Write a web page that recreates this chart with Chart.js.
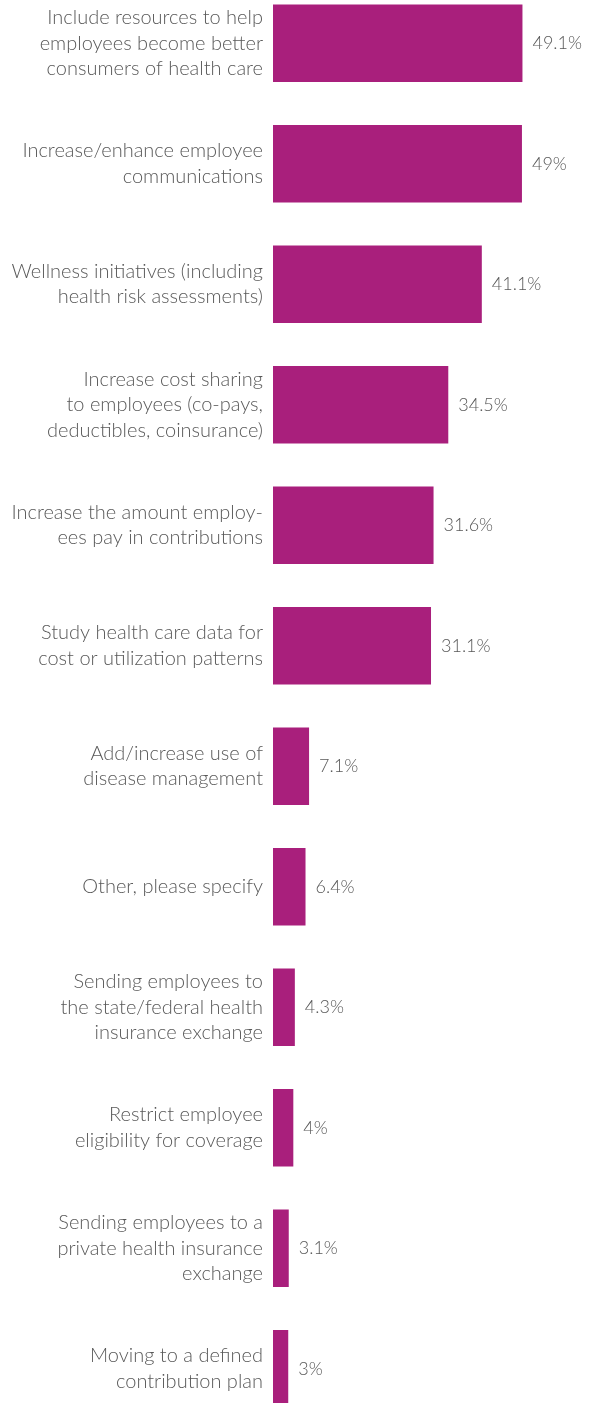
<!DOCTYPE html>
<html>
<head>
<meta charset="utf-8">
<script src="https://cdn.jsdelivr.net/npm/chart.js@4"></script>
<style>
  html, body { margin: 0; padding: 0; background: #fff; overflow: hidden; }
  #strategy-chart { position: absolute; left: 0; top: -17px; }
</style>
</head>
<body>
<canvas id="strategy-chart" width="591" height="1446"></canvas>
<script>
const categories = [
    ["Include resources to help", "employees become better", "consumers of health care"],
    ["Increase/enhance employee", "communications"],
    ["Wellness initiatives (including", "health risk assessments)"],
    ["Increase cost sharing", "to employees (co-pays,", "deductibles, coinsurance)"],
    ["Increase the amount employ-", "ees pay in contributions"],
    ["Study health care data for", "cost or utilization patterns"],
    ["Add/increase use of", "disease management"],
    "Other, please specify",
    ["Sending employees to", "the state/federal health", "insurance exchange"],
    ["Restrict employee", "eligibility for coverage"],
    ["Sending employees to a", "private health insurance", "exchange"],
    ["Moving to a defined", "contribution plan"]
];
const percents = [49.1, 49, 41.1, 34.5, 31.6, 31.1, 7.1, 6.4, 4.3, 4, 3.1, 3];
const valueLabels = ["49.1%", "49%", "41.1%", "34.5%", "31.6%", "31.1%", "7.1%", "6.4%", "4.3%", "4%", "3.1%", "3%"];

const textColor = '#595959';
const fontFamily = 'Lato, "Open Sans", sans-serif';

// draws the % next to each bar
const valuePlugin = {
    id: 'valueLabels',
    afterDatasetsDraw(chart) {
        const ctx = chart.ctx;
        const meta = chart.getDatasetMeta(0);
        ctx.save();
        ctx.font = '300 18px ' + fontFamily;
        ctx.fillStyle = textColor;
        ctx.textAlign = 'left';
        ctx.textBaseline = 'middle';
        meta.data.forEach((bar, i) => {
            ctx.fillText(valueLabels[i], bar.x + 10, bar.y);
        });
        ctx.restore();
    }
};

const strategyChart = () => {
    const option = {
        type: "bar",
        data: {
            labels: categories,
            datasets: [{
                data: percents,
                backgroundColor: '#a91f7c',
                barPercentage: 0.642,
                categoryPercentage: 1,
            }]
        },
        options: {
            indexAxis: 'y',
            responsive: false,
            animation: false,
            layout: { padding: { left: 0, right: 3, top: 0, bottom: 0 } },
            plugins: {
                legend: { display: false },
                tooltip: { enabled: false }
            },
            scales: {
                x: {
                    display: false,
                    min: 0,
                    max: 62
                },
                y: {
                    grid: { display: false, drawTicks: false, tickLength: 0 },
                    border: { display: false },
                    afterFit: (scale) => {
                        scale.width = 273;
                        // the multi-line labels would otherwise push the plot down
                        scale.paddingTop = 0;
                        scale.paddingBottom = 0;
                    },
                    ticks: {
                        padding: 10,
                        color: textColor,
                        font: { family: fontFamily, size: 20, weight: 300, lineHeight: 1.275 }
                    }
                }
            }
        },
        plugins: [valuePlugin]
    }
    const canvas = document.getElementById("strategy-chart");
    new Chart(canvas, option)
}

strategyChart();
</script>
</body>
</html>
